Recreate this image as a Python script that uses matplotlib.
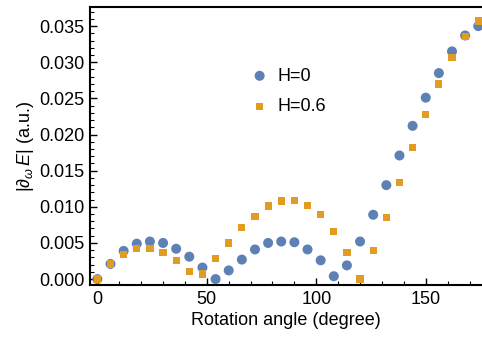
import numpy as np
import matplotlib.pyplot as plt
from matplotlib.ticker import MultipleLocator

plt.rcParams['font.family'] = ['Liberation Sans', 'DejaVu Sans']
plt.rcParams['mathtext.fontset'] = 'custom'
plt.rcParams['mathtext.rm'] = 'Liberation Sans'
plt.rcParams['mathtext.it'] = 'Liberation Sans:italic'

# Angulos de rotacao (graus)
angulos = list(range(0, 175, 6))

# Dados
h0 = [0.0000, 0.0021, 0.0039, 0.0049, 0.0052, 0.0050, 0.0042, 0.0031, 0.0016, 0.0000,
      0.0012, 0.0027, 0.0041, 0.0050, 0.0052, 0.0051, 0.0041, 0.0026, 0.0004, 0.0019,
      0.0052, 0.0089, 0.0130, 0.0171, 0.0212, 0.0251, 0.0285, 0.0315, 0.0337, 0.0350]
h06 = [0.0000, 0.0021, 0.0034, 0.0042, 0.0042, 0.0037, 0.0026, 0.0011, 0.0007, 0.0028,
       0.0050, 0.0071, 0.0087, 0.0101, 0.0108, 0.0109, 0.0102, 0.0089, 0.0066, 0.0037,
       0.0000, 0.0040, 0.0085, 0.0134, 0.0182, 0.0228, 0.0270, 0.0307, 0.0336, 0.0357]

fig = plt.figure(figsize=(4.82, 3.37), dpi=100)
ax = fig.add_axes([0.187, 0.154, 0.813, 0.825])

ax.scatter(angulos, h0, s=52, marker='o', color='#5E81B5', edgecolors='none',
           label='H=0', zorder=3)
ax.scatter(angulos, h06, s=27, marker='s', color='#E19C24', edgecolors='none',
           label='H=0.6', zorder=4)

ax.set_xlim(-3.3, 175.7)
ax.set_ylim(-0.00083, 0.03763)
ax.xaxis.set_major_locator(MultipleLocator(50))
ax.xaxis.set_minor_locator(MultipleLocator(10))
ax.yaxis.set_major_locator(MultipleLocator(0.005))
ax.yaxis.set_minor_locator(MultipleLocator(0.001))
ax.yaxis.set_major_formatter(plt.FuncFormatter(lambda v, p: f'{v:.3f}'))

ax.tick_params(which='both', direction='in', labelsize=13, pad=4)
ax.tick_params(which='major', length=5, width=1)
ax.tick_params(which='minor', length=3, width=0.8)
ax.tick_params(top=False, right=False)

ax.spines['right'].set_visible(False)
for s in ['left', 'bottom', 'top']:
    ax.spines[s].set_linewidth(1.5)

ax.set_xlabel('Rotation angle (degree)', fontsize=13, labelpad=3)
ax.set_ylabel(r'$|\partial_\omega\, E|$ (a.u.)', fontsize=13, labelpad=2)

ax.legend(loc='upper left', bbox_to_anchor=(0.345, 0.841), frameon=False,
          fontsize=13, handletextpad=0.0, labelspacing=0.75, scatterpoints=1)

plt.savefig('out.png', dpi=100)
